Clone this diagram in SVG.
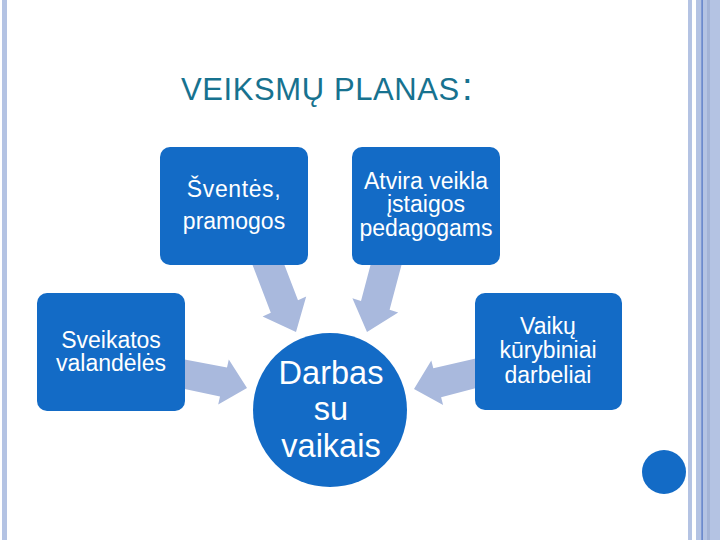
<svg xmlns="http://www.w3.org/2000/svg" width="720" height="540" viewBox="0 0 720 540">
<style>
.box{fill:#136BC6}
.arr{fill:#A9B9DD}
.t{font-family:"Liberation Sans",Arial,sans-serif;fill:#FFFFFF;text-anchor:middle;font-size:23px}
.title{font-family:"Liberation Sans",Arial,sans-serif;fill:#17728F}
.stripe{fill:#B4C3E3}
</style>
<rect width="720" height="540" fill="#FFFFFF"/>
<g id="frame">
<rect class="stripe" x="2" y="0" width="5" height="540"/>
<rect class="stripe" x="688" y="0" width="4" height="540"/>
<rect class="stripe" x="696" y="0" width="24" height="540"/>
<rect x="707" y="0" width="3" height="540" fill="#A3B3D6"/>
<rect x="701.5" y="0" width="1.2" height="540" fill="#4D73C4"/>
</g>
<text class="title" x="181" y="100" font-size="31" letter-spacing="0.6">VEIKSMŲ PLANAS<tspan font-size="38" dx="2">:</tspan></text>
<g id="connectors">
<polygon class="arr" points="251.4,262 278.7,250 298,300.3 306.2,296.5 296,332 262.6,316.5 270.8,312.7"/>
<polygon class="arr" points="402.3,262 373.7,253 361,300.9 352.4,298.2 367,332 398.2,312.4 389.6,309.7"/>
<polygon class="arr" points="180,388 182,359 227,367.4 228.8,359.6 247,388 218.2,404.4 220,396.6"/>
<polygon class="arr" points="482,386.5 480,357.5 433.3,368.3 431.3,360.6 414,389 443.1,405 441.1,397.3"/>
</g>
<g id="node-sventes">
<rect class="box" x="160" y="147" width="148" height="118" rx="10"/>
<text class="t" x="234" y="197" letter-spacing="0.6">Šventės,</text>
<text class="t" x="234" y="229">pramogos</text>
</g>
<g id="node-atvira">
<rect class="box" x="352" y="147" width="148" height="118" rx="10"/>
<text class="t" x="426" y="189">Atvira veikla</text>
<text class="t" x="426" y="212">įstaigos</text>
<text class="t" x="426" y="236">pedagogams</text>
</g>
<g id="node-sveikatos">
<rect class="box" x="37" y="293" width="148" height="118" rx="10"/>
<text class="t" x="111" y="348">Sveikatos</text>
<text class="t" x="111" y="371">valandėlės</text>
</g>
<g id="node-vaiku">
<rect class="box" x="475" y="293" width="147" height="117" rx="10"/>
<text class="t" x="548" y="334">Vaikų</text>
<text class="t" x="548" y="358">kūrybiniai</text>
<text class="t" x="548" y="383">darbeliai</text>
</g>
<g id="node-darbas">
<circle class="box" cx="330" cy="410" r="77"/>
<text class="t" style="font-size:32.5px" x="331" y="384">Darbas</text>
<text class="t" style="font-size:32.5px" x="331" y="420">su</text>
<text class="t" style="font-size:32.5px" x="331" y="457">vaikais</text>
</g>
<g id="dot">
<circle class="box" cx="664" cy="472" r="22"/>
</g>
</svg>
